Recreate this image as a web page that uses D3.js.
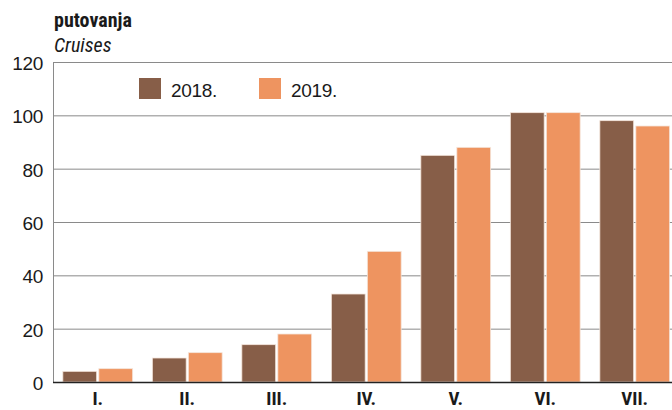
<!DOCTYPE html>
<html>
<head>
<meta charset="utf-8">
<script src="https://d3js.org/d3.v7.min.js"></script>
<style>
body { margin: 0; background: #fff; }
svg text { font-family: "Liberation Sans Narrow", "Arial Narrow", "Roboto Condensed", "Liberation Sans", sans-serif; fill: #1a1a1a; }
svg text.num { font-family: "Liberation Sans", Arial, sans-serif; }
</style>
</head>
<body>
<script>
// chart data
var months = ["I.", "II.", "III.", "IV.", "V.", "VI.", "VII."];
var years = ["2018.", "2019."];
var cruises2018 = [4, 9, 14, 33, 85, 101, 98];
var cruises2019 = [5, 11, 18, 49, 88, 101, 96];
var yTicks = [0, 20, 40, 60, 80, 100, 120];
var colors = ["#875e48", "#ee9460"];

var width = 672, height = 410;
var plotLeft = 53, plotTop = 62, plotBottom = 382;

var svg = d3.select("body").append("svg")
    .attr("width", width)
    .attr("height", height);

var x = d3.scaleBand()
    .domain(months)
    .range([plotLeft, plotLeft + 7 * 89.5])
    .paddingInner(0.22)
    .paddingOuter(0.11);

var x1 = d3.scaleBand()
    .domain(years)
    .range([0, x.bandwidth()])
    .paddingInner(0.06);

var y = d3.scaleLinear()
    .domain([0, 120])
    .range([plotBottom, plotTop]);

// gridlines
svg.append("g").selectAll("line")
    .data(yTicks.filter(function(d) { return d > 0; }))
    .enter().append("line")
    .attr("x1", plotLeft).attr("x2", width)
    .attr("y1", function(d) { return y(d) + 0.5; })
    .attr("y2", function(d) { return y(d) + 0.5; })
    .attr("stroke", "#8a8a8a")
    .attr("stroke-width", 1);

svg.append("line")
    .attr("x1", plotLeft + 0.5).attr("x2", plotLeft + 0.5)
    .attr("y1", plotTop).attr("y2", plotBottom)
    .attr("stroke", "#8a8a8a");

// bars
var rows = months.map(function(m, i) {
    return { month: m, vals: [cruises2018[i], cruises2019[i]] };
});

var groups = svg.append("g").selectAll("g")
    .data(rows)
    .enter().append("g")
    .attr("transform", function(d) { return "translate(" + x(d.month) + ",0)"; });

groups.selectAll("rect")
    .data(function(d) { return d.vals.map(function(v, j) { return { year: years[j], v: v, j: j }; }); })
    .enter().append("rect")
    .attr("x", function(d) { return x1(d.year); })
    .attr("width", x1.bandwidth())
    .attr("y", function(d) { return y(d.v); })
    .attr("height", function(d) { return plotBottom - y(d.v); })
    .attr("fill", function(d) { return colors[d.j]; })
    .attr("stroke", "#f4e6dc")
    .attr("stroke-width", 0.8);

// baseline
svg.append("line")
    .attr("x1", plotLeft).attr("x2", width)
    .attr("y1", plotBottom + 0.5).attr("y2", plotBottom + 0.5)
    .attr("stroke", "#222")
    .attr("stroke-width", 1.5);

// y labels
svg.append("g").selectAll("text")
    .data(yTicks)
    .enter().append("text")
    .attr("class", "num")
    .attr("x", 43)
    .attr("y", function(d) { return y(d) + 8; })
    .attr("text-anchor", "end")
    .style("font-size", "19px")
    .style("letter-spacing", "-0.3px")
    .text(function(d) { return d; });

// x labels
svg.append("g").selectAll("text")
    .data(months)
    .enter().append("text")
    .attr("x", function(d) { return x(d) + x.bandwidth() / 2; })
    .attr("y", 405)
    .attr("text-anchor", "middle")
    .style("font-size", "19px")
    .style("font-weight", "bold")
    .text(function(d) { return d; });

// titles
svg.append("text")
    .attr("x", 54).attr("y", 27)
    .style("font-size", "20px")
    .style("font-weight", "bold")
    .text("putovanja");
svg.append("text")
    .attr("x", 54).attr("y", 52)
    .style("font-size", "20px")
    .style("font-style", "italic")
    .text("Cruises");

// legend
var legendX = [139, 259];
var legend = svg.append("g").selectAll("g")
    .data(years)
    .enter().append("g")
    .attr("transform", function(d, i) { return "translate(" + legendX[i] + ",78)"; });
legend.append("rect")
    .attr("width", 22).attr("height", 21)
    .attr("fill", function(d, i) { return colors[i]; });
legend.append("text")
    .attr("class", "num")
    .attr("x", 32).attr("y", 19)
    .style("font-size", "19px")
    .style("letter-spacing", "-0.3px")
    .text(function(d) { return d; });
</script>
</body>
</html>
